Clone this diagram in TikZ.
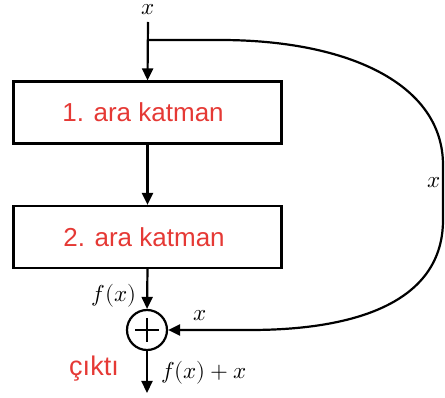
\documentclass[tikz,border=0pt]{standalone}
\usepackage{fontspec}
\setmainfont{Liberation Sans}
\usepackage{unicode-math}
\usetikzlibrary{arrows.meta,calc}
\definecolor{lred}{HTML}{E53935}
\begin{document}
\begin{tikzpicture}[x=1pt,y=-1pt,
  layerbox/.style={draw,line width=2.2pt,minimum width=268pt,minimum height=62pt,inner sep=0pt,
    text=lred,font=\fontsize{26}{30}\selectfont},
  conn/.style={line width=2.2pt,-{Triangle[length=12pt,width=11pt]}},
  mlab/.style={inner sep=0pt,font=\fontsize{23}{26}\selectfont}]
\useasboundingbox (0,0) rectangle (445,398);
\node[mlab] (xin) at (148,10) {$x$};
\coordinate (top) at (148,22);
\coordinate (split) at (148,40);
\node[layerbox] (b1) at (147.5,112.5) {1. ara katman\hspace*{9pt}};
\node[layerbox] (b2) at (147.5,237) {2. ara katman\hspace*{7pt}};
\node[draw,circle,line width=2.2pt,minimum size=40pt,inner sep=0pt] (plus) at (147,330) {};
\draw[line width=2pt] ($(plus.center)+(-12,0)$) -- ($(plus.center)+(12,0)$);
\draw[line width=2pt] ($(plus.center)+(0,-12)$) -- ($(plus.center)+(0,12)$);
\coordinate (out) at (147,393);
\draw[conn] (top) -- (b1.north);
\draw[conn] (b1.south) -- (b2.north);
\draw[conn] (b2.south) -- (plus.north);
\draw[conn] (plus.south) -- (out);
\draw[conn] (split) -- (220,40) .. controls (350,40) and (443,85) .. (443,165) -- (443,220)
  .. controls (443,300) and (360,330) .. (250,330) -- (plus.east);
\node[mlab] (fx) at (114,296) {$f(x)$};
\node[mlab] (xr) at (200,316) {$x$};
\node[mlab] (xs) at (434,183) {$x$};
\node[mlab] (fxx) at (204,373) {$f(x)+x$};
\node[inner sep=0pt,text=lred,font=\fontsize{27}{30}\selectfont] (cikti) at (94,369) {çıktı};
\end{tikzpicture}
\end{document}
